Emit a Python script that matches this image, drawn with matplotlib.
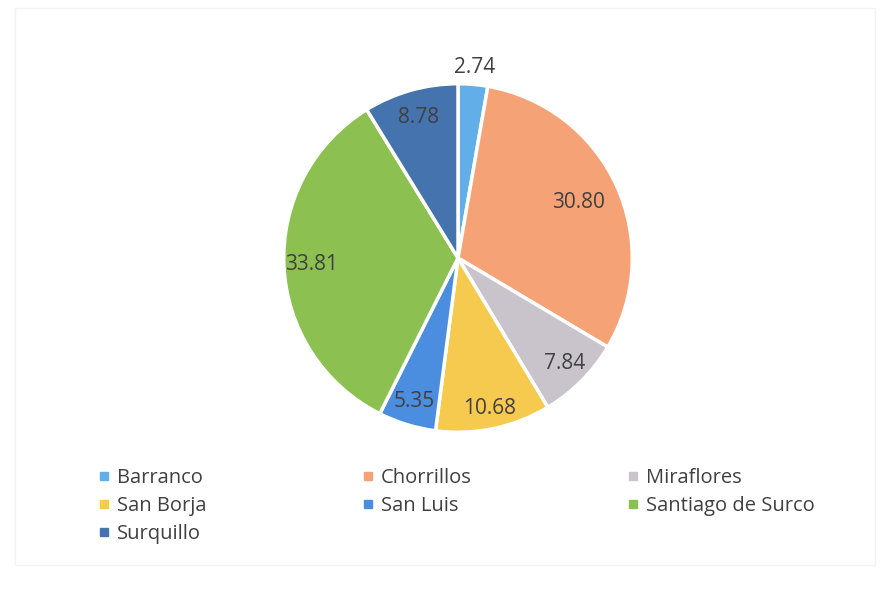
import numpy as np
import matplotlib.pyplot as plt
from matplotlib.patches import Rectangle
from matplotlib.lines import Line2D

districts = ['Barranco', 'Chorrillos', 'Miraflores', 'San Borja',
             'San Luis', 'Santiago de Surco', 'Surquillo']
values = [2.74, 30.80, 7.84, 10.68, 5.35, 33.81, 8.78]
colors = ['#62aee9', '#f5a276', '#c9c4cc', '#f6c94f',
          '#4b8ee0', '#8cc152', '#4473ad']
# label radius (fraction of pie radius) -- barranco goes outside
label_r = [1.1, 0.76, 0.86, 0.88, 0.86, 0.84, 0.84]

plt.rcParams['font.family'] = ['Open Sans', 'DejaVu Sans']

fig = plt.figure(figsize=(8.88, 5.98), dpi=100)
fig.patch.set_facecolor('white')

# faint frame of the scanned chart area
fig.patches.append(Rectangle((15 / 888, 1 - 565 / 598), 860 / 888, 557 / 598,
                             transform=fig.transFigure, fill=False,
                             edgecolor='#f3f3f3', linewidth=1))

ax = fig.add_axes([(458 - 176) / 888, (598 - 434) / 598, 352 / 888, 352 / 598])
wedges, _ = ax.pie(values, colors=colors, startangle=90, counterclock=False,
                   wedgeprops=dict(edgecolor='white', linewidth=2.5))
ax.set_xlim(-1.01, 1.01)
ax.set_ylim(-1.01, 1.01)
ax.set_aspect('equal')

for w, v, r in zip(wedges, values, label_r):
    ang = np.deg2rad((w.theta1 + w.theta2) / 2)
    ax.text(r * np.cos(ang), r * np.sin(ang), f'{v:.2f}',
            ha='center', va='center', fontsize=15, color='#404040')

handles = [Line2D([], [], marker='s', linestyle='', markersize=5.5,
                  markerfacecolor=c, markeredgecolor=c) for c in colors]
order = [0, 3, 6, 1, 4, 2, 5]
fig.legend([handles[i] for i in order], [districts[i] for i in order],
           loc='upper left', bbox_to_anchor=(80 / 888, 1 - 450 / 598),
           ncol=3, frameon=False, fontsize=14.5, labelcolor='#404040',
           handlelength=0.6, handletextpad=0.35, columnspacing=7.7,
           labelspacing=0.39)

fig.savefig('out.png', dpi=100, facecolor='white')
